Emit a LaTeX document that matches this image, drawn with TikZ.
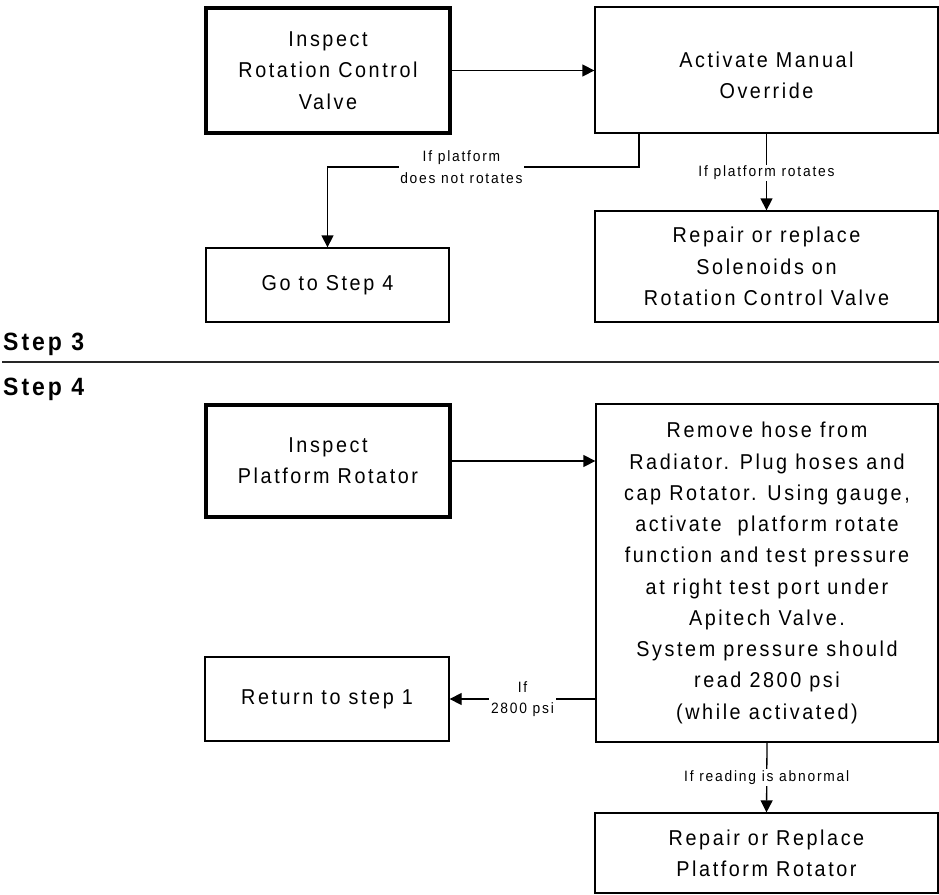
\documentclass[tikz,border=0pt]{standalone}
\usepackage{fontspec}
\setmainfont{Liberation Sans}[FakeStretch=0.92, LetterSpace=12]
\usetikzlibrary{arrows.meta}
\newcommand\boxfont{\fontsize{21.5}{31.25}\selectfont}
\newcommand\lblfont{\fontsize{15}{21.5}\selectfont}
\newcommand\stepfont{\fontsize{25}{28}\selectfont\bfseries}
\begin{document}
\begin{tikzpicture}[x=1pt,y=-1pt,
  procbox/.style={draw=black, line width=1.3pt, inner sep=0pt, align=center, font=\boxfont},
  heavybox/.style={procbox, line width=4pt},
  lbl/.style={fill=white, inner sep=1.5pt, align=center, font=\lblfont},
  arr/.style={line width=1.3pt, -{Triangle[length=12pt,width=12pt]}},
  steplabel/.style={anchor=base west, inner sep=0pt, font=\stepfont}]
\useasboundingbox (0,0) rectangle (939,894);

% ---- Step 3 ----
\node[heavybox, minimum width=244pt, minimum height=125pt] (rcv) at (328,70.5)
  {Inspect\\Rotation Control\\Valve};
\node[procbox, minimum width=343pt, minimum height=126pt] (amo) at (766.5,70)
  {\rule{0pt}{26pt}Activate Manual\\Override};
\node[procbox, minimum width=243pt, minimum height=74pt] (go4) at (327.5,285)
  {Go to Step 4};
\node[procbox, minimum width=343pt, minimum height=111pt] (sol) at (766.5,266.5)
  {Repair or replace\\Solenoids on\\Rotation Control Valve};

\draw[arr] (rcv.east) -- (rcv.east -| amo.west);
\coordinate (bend) at (639,167);
\draw[arr] (amo.south -| bend) -- (bend)
  -- node[lbl, pos=0.57] {If platform\\does not rotates} (bend -| go4.north)
  -- (go4.north);
\draw[arr] (amo.south) -- node[lbl, yshift=-1pt] {If platform rotates} (sol.north);

% ---- section divider ----
\node[steplabel] (s3) at (3,350) {Step 3};
\draw[line width=1.6pt, black!85] (2,362) -- (939,362);
\node[steplabel] (s4) at (3,395) {Step 4};

% ---- Step 4 ----
\node[heavybox, minimum width=244pt, minimum height=112pt] (ipr) at (328,461)
  {Inspect\\Platform Rotator};
\node[procbox, minimum width=342pt, minimum height=338pt] (test) at (767,573)
  {Remove hose from\\Radiator. Plug hoses and\\cap Rotator. Using gauge,\\activate~ platform rotate\\function and test pressure\\at right test port under\\Apitech Valve.\\System pressure should\\read 2800 psi\\(while activated)};
\node[procbox, minimum width=244pt, minimum height=84pt] (ret) at (327,699)
  {Return to step 1};
\node[procbox, minimum width=343pt, minimum height=80pt] (rot) at (766.5,853)
  {Repair or Replace\\Platform Rotator};

\draw[arr] (ipr.east) -- (ipr.east -| test.west);
\draw[arr] (test.west |- ret.east) -- node[lbl, inner xsep=2pt] {If\\2800 psi} (ret.east);
\draw[arr] (test.south) -- node[lbl] {If reading is abnormal} (rot.north);
\end{tikzpicture}
\end{document}
